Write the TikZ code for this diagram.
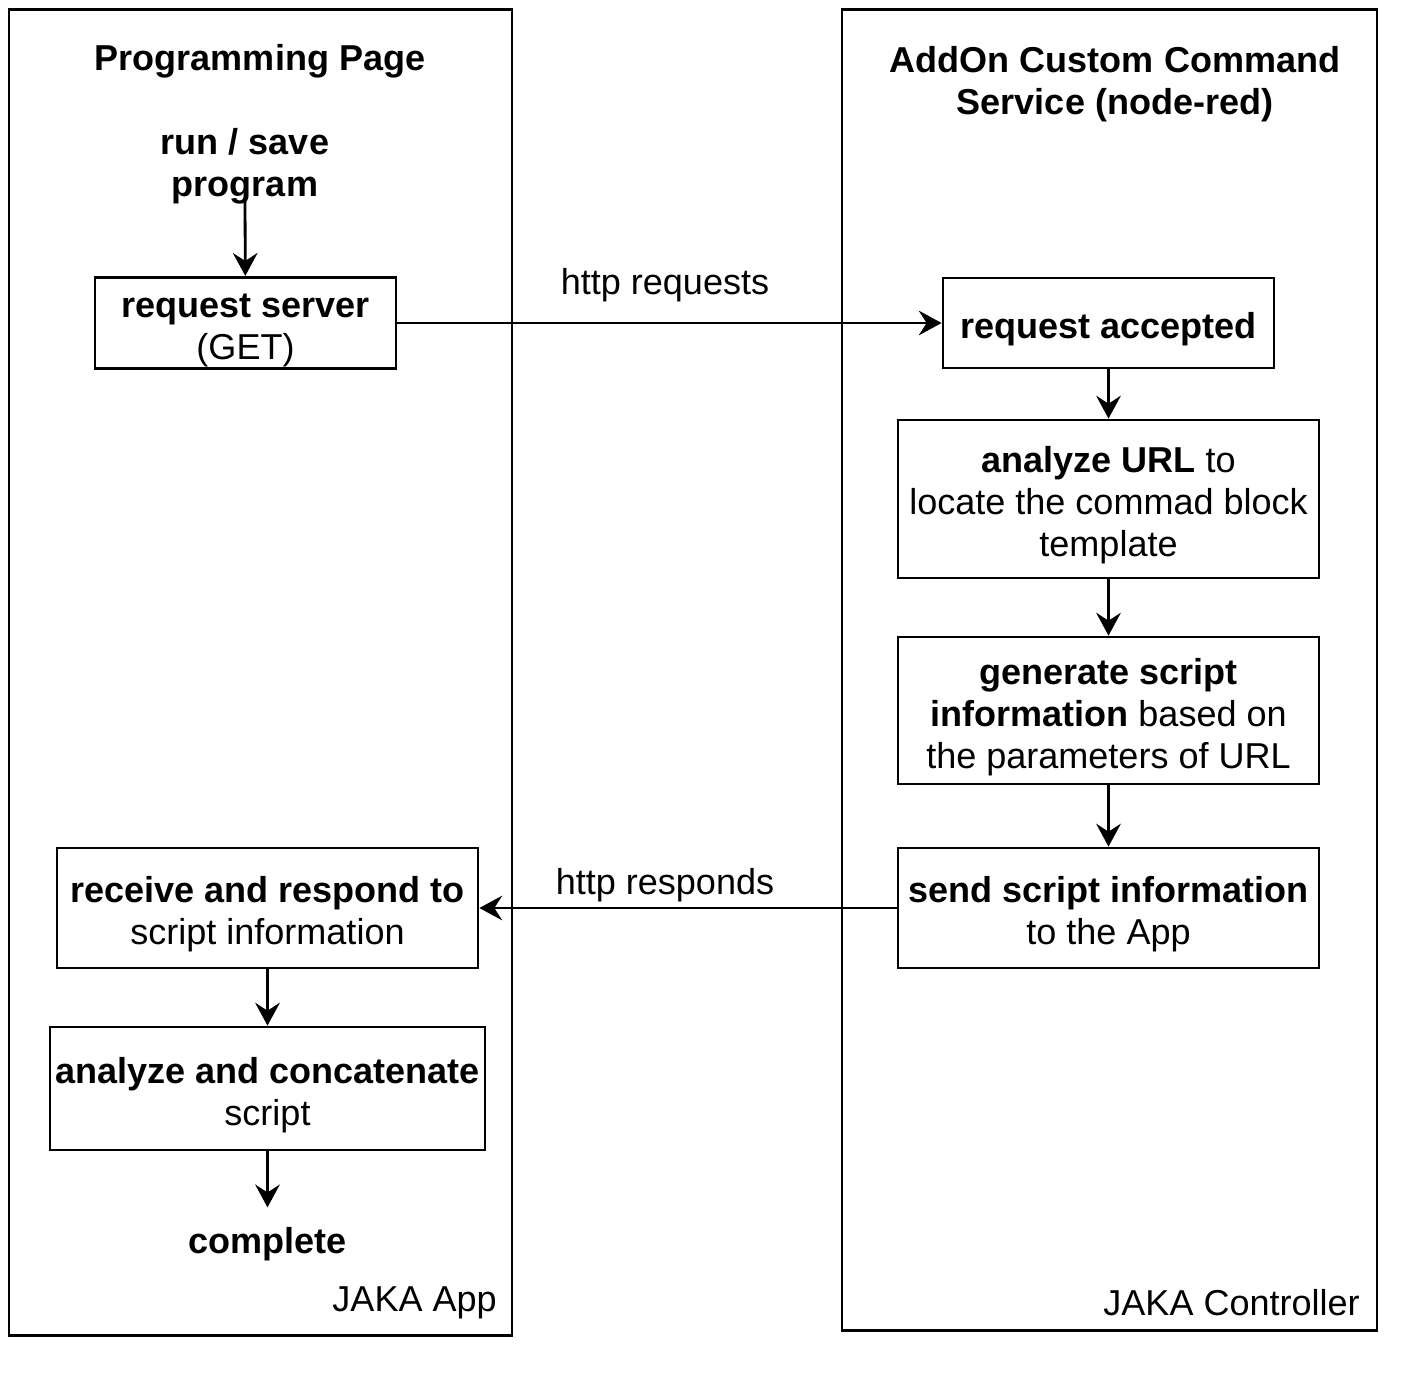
\documentclass[tikz,border=0pt]{standalone}
\usepackage{fontspec}
\setmainfont{Liberation Sans}
\usetikzlibrary{positioning, arrows.meta}
\newcommand{\boxstrut}{\rule{0pt}{0.77cm}}
\tikzset{%
  every stepbox/.style={
    rectangle,
    draw,
    line width=1.6pt,
    align=center,
    inner sep=1pt
  }
}

\begin{document}
\begin{tikzpicture}[x=0.02cm, y=-0.02cm, >={Stealth[length=13pt, width=14pt, inset=4.5pt]},
  every node/.style={font=\fontsize{20.5}{23.9}\selectfont},
  lane/.style={draw, line width=1.6pt, inner sep=0pt},
  flow/.style={->, line width=1.6pt}]
		\useasboundingbox (0,0) rectangle (1419,1380);
		%% lanes
		\node[lane, minimum width=10.06cm, minimum height=26.54cm] (app) at (260.5,672.5) {};
		\node[lane, minimum width=10.7cm, minimum height=26.44cm] (ctrl) at (1109.5,670) {};
		\node[anchor=east, inner sep=0pt] (applbl) at (497,1303) {JAKA App};
		\node[anchor=east, inner sep=0pt] (ctrllbl) at (1360,1303) {JAKA Controller};
		%% titles
		\node[align=center] (pp) at (260,61) {\textbf{Programming Page}};
		\node[align=center] (addon) at (1115,84) {\textbf{AddOn Custom Command}\\\textbf{Service (node-red)}};
		%% app side
		\node[align=center, inner sep=0pt] (runsave) at (245,166) {\textbf{run / save}\\\textbf{program}};
		\node[every stepbox, minimum width=6.02cm, minimum height=1.8cm] (reqserver) at (245.5,323) {\boxstrut\textbf{request server}\\(GET)};
		\node[every stepbox, minimum width=8.42cm, minimum height=2.4cm] (receive) at (267.5,908) {\boxstrut\textbf{receive and respond to}\\script information};
		\node[every stepbox, minimum width=8.7cm, minimum height=2.46cm] (concat) at (267.5,1088.5) {\boxstrut\textbf{analyze and concatenate}\\script};
		\node[inner xsep=2pt, inner ysep=0.39cm] (complete) at (267.5,1244) {\textbf{complete}};
		%% controller side
		\node[every stepbox, minimum width=6.62cm, minimum height=1.8cm] (reqaccepted) at (1108.5,323) {\boxstrut\textbf{request accepted}};
		\node[every stepbox, minimum width=8.42cm, minimum height=3.16cm] (analyzeurl) at (1108.5,499) {\boxstrut\textbf{analyze URL} to\\locate the commad block\\template};
		\node[every stepbox, minimum width=8.42cm, minimum height=2.94cm] (genscript) at (1108.5,710.5) {\boxstrut\textbf{generate script}\\\textbf{information} based on\\the parameters of URL};
		\node[every stepbox, minimum width=8.42cm, minimum height=2.4cm] (sendscript) at (1108.5,908) {\boxstrut\textbf{send script information}\\to the App};
		%% http labels
		\node (httpreq) at (665,285) {http requests};
		\node (httpresp) at (665,885) {http responds};
		%% connections
		\draw[flow] ([yshift=0.1cm]runsave.south) -- (reqserver);
		\draw[flow] (reqserver) -- (reqaccepted);
		\draw[flow] (reqaccepted) -- (analyzeurl);
		\draw[flow] (analyzeurl) -- (genscript);
		\draw[flow] (genscript) -- (sendscript);
		\draw[flow] (sendscript) -- (receive);
		\draw[flow] (receive) -- (concat);
		\draw[flow] (concat) -- (complete);
	\end{tikzpicture}
\end{document}
